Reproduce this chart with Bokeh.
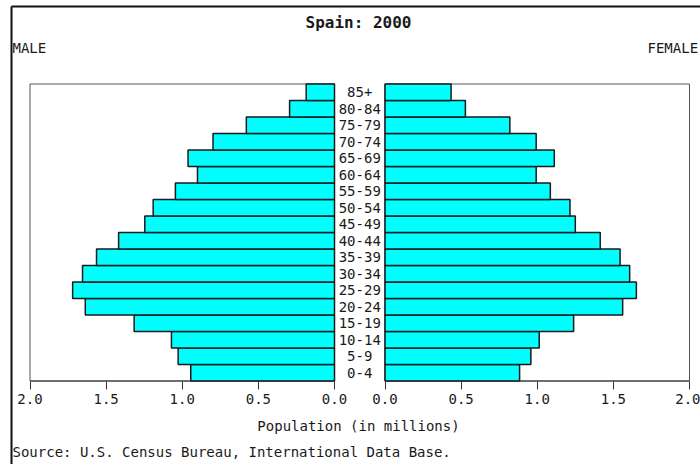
from bokeh.plotting import figure
from bokeh.models import Range1d, FixedTicker, CustomJSTickFormatter, ColumnDataSource
from bokeh.core.properties import value
from bokeh.embed import file_html
from bokeh.resources import INLINE

# ---------------- data ----------------
ages = ["0-4", "5-9", "10-14", "15-19", "20-24", "25-29", "30-34", "35-39", "40-44",
        "45-49", "50-54", "55-59", "60-64", "65-69", "70-74", "75-79", "80-84", "85+"]
male = [0.944, 1.027, 1.071, 1.316, 1.637, 1.720, 1.655, 1.563, 1.418,
        1.246, 1.191, 1.045, 0.900, 0.962, 0.798, 0.579, 0.295, 0.186]
female = [0.884, 0.958, 1.013, 1.239, 1.561, 1.651, 1.607, 1.544, 1.414,
          1.250, 1.215, 1.086, 0.993, 1.112, 0.993, 0.820, 0.528, 0.434]
tick_values = [0.0, 0.5, 1.0, 1.5, 2.0]

title_text = "Spain: 2000"
left_label = "MALE"
right_label = "FEMALE"
xlabel_text = "Population (in millions)"
source_text = "Source: U.S. Census Bureau, International Data Base."

# ---------------- layout constants ----------------
W, H = 700, 464
SX = 152.25              # pixels per million
SY = 16.5                # pixels per age group
G = 50.5 / SX            # gap between the two panels, in data units
X0 = -2 - 29.5 / SX      # data x at the left canvas edge
YT = (len(ages) - 0.5) + 83.5 / SY   # data y at the top canvas edge


def dx(px):
    return X0 + px / SX


def dy(py):
    return YT - py / SY


FONT = "DejaVu Sans Mono"
TXT = "#1a1a1a"

p = figure(width=W, height=H, output_backend="svg", toolbar_location=None,
           x_range=Range1d(dx(0), dx(W)), y_range=Range1d(dy(H), dy(0)),
           min_border_left=0, min_border_right=0, min_border_top=0, min_border_bottom=0)
p.outline_line_color = None
p.background_fill_color = "white"
p.border_fill_color = "white"
p.xgrid.visible = False
p.ygrid.visible = False
p.yaxis.visible = False

n = len(ages)
idx = list(range(n))
src = ColumnDataSource(dict(
    y=idx,
    mleft=[-v for v in male],
    mright=[0] * n,
    fleft=[G] * n,
    fright=[G + v for v in female],
    age=ages,
    ax=[G / 2] * n,
))

# panel frames
p.quad(left=[-2, G], right=[0, G + 2], bottom=[-0.5, -0.5], top=[n - 0.5] * 2,
       fill_color=None, line_color="#555555", line_width=1)

# bars
p.hbar(y="y", left="mleft", right="mright", height=1.0, source=src,
       fill_color="#00ffff", line_color="#1a1a1a", line_width=1.5)
p.hbar(y="y", left="fleft", right="fright", height=1.0, source=src,
       fill_color="#00ffff", line_color="#1a1a1a", line_width=1.5)

# bottom lines of the two panels
p.segment(x0=[-2, G], x1=[0, G + 2], y0=[-0.5, -0.5], y1=[-0.5, -0.5],
          line_color="#333333", line_width=1.2)

# age group labels
p.text(x="ax", y="y", text="age", source=src, text_align="center", text_baseline="middle",
       text_font=value(FONT), text_font_size=value("14px"), text_color=TXT)

# x axis, drawn at the bottom of the panels
ticks = [-v for v in tick_values] + [G + v for v in tick_values]
xa = p.xaxis[0]
xa.fixed_location = -0.5
xa.ticker = FixedTicker(ticks=ticks)
xa.formatter = CustomJSTickFormatter(args=dict(G=G), code="""
    const v = tick < G / 2 ? Math.abs(tick) : tick - G;
    return v.toFixed(1);
""")
xa.axis_line_color = None
xa.major_tick_out = 8
xa.major_tick_in = 0
xa.major_tick_line_color = "#333333"
xa.minor_tick_line_color = None
xa.major_label_standoff = 5
xa.major_label_text_font = FONT
xa.major_label_text_font_size = "14px"
xa.major_label_text_color = TXT

# surrounding texts
p.text(x=[dx(358)], y=[dy(22)], text=[title_text], text_align="center", text_baseline="middle",
       text_font=value(FONT), text_font_size=value("16px"), text_font_style="bold",
       text_color=TXT)
p.text(x=[dx(12), dx(647)], y=[dy(47), dy(47)], text=[left_label, right_label],
       text_align="left", text_baseline="middle",
       text_font=value(FONT), text_font_size=value("14px"), text_color=TXT)
p.text(x=[dx(358)], y=[dy(425)], text=[xlabel_text], text_align="center", text_baseline="middle",
       text_font=value(FONT), text_font_size=value("14px"), text_color=TXT)
p.text(x=[dx(12)], y=[dy(451)], text=[source_text], text_align="left", text_baseline="middle",
       text_font=value(FONT), text_font_size=value("14px"), text_color=TXT)

# outer border of the picture (top and left edges)
p.segment(x0=[dx(11), dx(11)], x1=[dx(W), dx(11)], y0=[dy(6), dy(6)], y1=[dy(6), dy(H)],
          line_color="#111111", line_width=2)

open("out.html", "w").write(file_html(p, INLINE))
